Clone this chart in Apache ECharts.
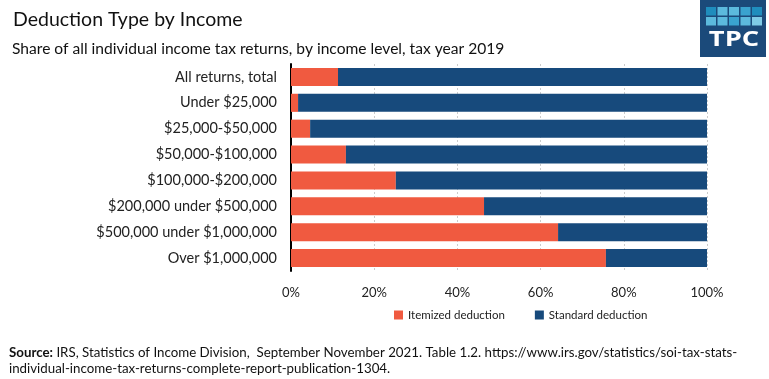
<!DOCTYPE html>
<html><head><meta charset="utf-8">
<script src="https://cdn.jsdelivr.net/npm/echarts@6/dist/echarts.min.js"></script>
<style>html,body{margin:0;padding:0;background:#fff}#c{width:769px;height:379px}</style>
</head><body><div id="c"></div>
<script>
const categories = ["All returns, total","Under $25,000","$25,000-$50,000","$50,000-$100,000","$100,000-$200,000","$200,000 under $500,000","$500,000 under $1,000,000","Over $1,000,000"];
const itemized = [11.3, 1.7, 4.6, 13.2, 25.2, 46.4, 64.2, 75.7];
const standard = [88.7, 98.3, 95.4, 86.8, 74.8, 53.6, 35.8, 24.3];
const seriesNames = ["Itemized deduction","Standard deduction"];
const xTicks = [0,20,40,60,80,100];

const chart = echarts.init(document.getElementById('c'), null, {renderer:'canvas'});
const F = 'Lato, "Open Sans", sans-serif';
const logoSquares = [];
const sqColors = ['#1f8dbd','#5cbadd','#5cbadd','#3aa3cf','#1f8dbd','#5cbadd','#5cbadd','#3aa3cf','#5cbadd','#7fcbe6'];
for (let r=0;r<2;r++) for (let c=0;c<5;c++) {
  logoSquares.push({type:'rect', shape:{x:706+c*11.5, y:7+r*10, width:10, height:8.5}, style:{fill:sqColors[r*5+c]}});
}
chart.setOption({
  animation:false,
  title:[
    {text:'Deduction Type by Income', left:8, top:5, textStyle:{fontFamily:F, fontSize:19.5, fontWeight:'normal', color:'#111'}},
    {text:'Share of all individual income tax returns, by income level, tax year 2019', left:7, top:36, textStyle:{fontFamily:F, fontSize:15.6, fontWeight:'normal', color:'#111'}}
  ],
  legend:{bottom:53, left:389, itemWidth:9, itemHeight:9, itemGap:30, icon:'rect',
    textStyle:{fontFamily:F, fontSize:11.5, color:'#222'}, data:seriesNames},
  grid:{left:291, right:62, top:64, bottom:108, containLabel:false},
  xAxis:{type:'value', min:0, max:100, interval:20,
    axisLabel:{formatter:v=>v+'%', fontFamily:F, fontSize:13, color:'#222', margin:15},
    splitLine:{show:true, lineStyle:{type:[2,2], color:'#ccc'}},
    axisLine:{show:false}, axisTick:{show:false}},
  yAxis:{type:'category', inverse:true, data:categories,
    axisLabel:{fontFamily:F, fontSize:14.5, color:'#222', margin:14},
    axisLine:{show:true, lineStyle:{color:'#000', width:2}}, axisTick:{show:false}},
  series:[
    {name:seriesNames[0], type:'bar', stack:'a', data:itemized, itemStyle:{color:'#F05A40'}, barCategoryGap:'30%'},
    {name:seriesNames[1], type:'bar', stack:'a', data:standard, itemStyle:{color:'#174A7C'}, barCategoryGap:'30%'}
  ],
  graphic:[
    {type:'rect', shape:{x:700, y:0, width:66, height:57}, style:{fill:'#1b4a7a'}},
    ...logoSquares,
    {type:'text', x:734, y:30, scaleX:1.3, style:{x:0, y:0, text:'TPC', fill:'#fff', font:'bold 21px "Open Sans", sans-serif', align:'center', verticalAlign:'top'}},
    {type:'text', style:{x:9, y:345, text:'{b|Source:} IRS, Statistics of Income Division,  September November 2021. Table 1.2. https://www.irs.gov/statistics/soi-tax-stats-\nindividual-income-tax-returns-complete-report-publication-1304.',
      font:'13.3px Lato, sans-serif', fill:'#111', lineHeight:16,
      rich:{b:{fontFamily:'Lato', fontSize:13.3, fontWeight:'bold', fill:'#111'}}}}
  ]
});
</script></body></html>
